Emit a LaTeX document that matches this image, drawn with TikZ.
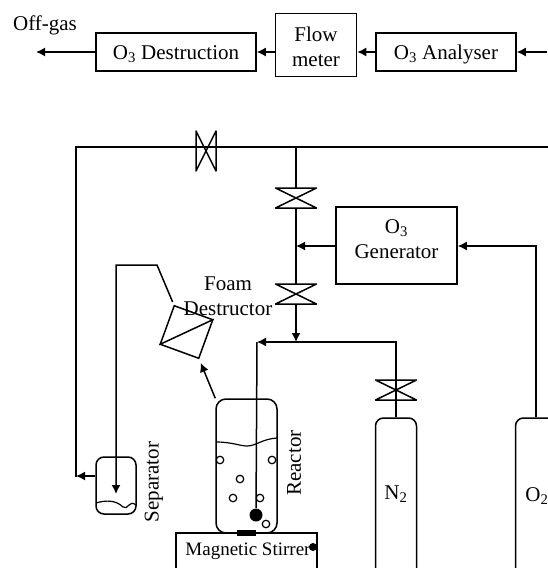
\documentclass[tikz,border=0pt]{standalone}
\usepackage{fontspec}
\setmainfont{Liberation Serif}
\usepackage{tikz}
\usetikzlibrary{positioning,arrows.meta,calc}

\begin{document}
\begin{tikzpicture}[
    x=1pt, y=-1pt,
    >={Latex[length=9pt,width=9pt]},
    line width=1.5pt,
    lbl/.style={font=\fontsize{21}{24.5}\selectfont, inner sep=0pt, align=center},
    box/.style={rectangle, draw, inner sep=0pt, font=\fontsize{21}{24.5}\selectfont, align=center},
    valve/.style={rectangle, minimum width=41pt, minimum height=20pt, inner sep=0pt, outer sep=0pt},
    vessel/.style={rectangle, draw, rounded corners=8pt, inner sep=0pt},
    bubble/.style={circle, draw, line width=1.2pt, minimum size=7.5pt, inner sep=0pt},
    blob/.style={circle, fill, inner sep=0pt}
]
\useasboundingbox (0,0) rectangle (547,568);

% Off-gas train
\node[box, minimum width=160pt, minimum height=38pt, text height=19pt] (dest) at (176,52) {O\textsubscript{3} Destruction};
\node[box, minimum width=81pt, minimum height=63pt] (flow) at (316,45) {};
\node[lbl] (flowlbl) at (316,47) {Flow\\meter};
\node[box, minimum width=140pt, minimum height=38pt, text height=19pt] (ana) at (446,52) {O\textsubscript{3} Analyser};
\node[lbl] (off) at (45,25) {Off-gas};
\coordinate (gasin) at (547,52);
\coordinate (gasout) at (36,52);
\draw[->] (gasin) -- (ana);
\draw[->] (ana) -- (flow.east |- ana);
\draw[->] (flow.west |- dest) -- (dest);
\draw[->] (dest) -- (gasout);

% Valves
\node[valve, minimum width=20pt, minimum height=40pt] (vtop) at (206,151) {};
\node[valve] (vgen) at (296,198) {};
\node[valve] (vfoam) at (296,294) {};
\node[valve] (vnit) at (396,390) {};
\foreach \v in {vgen,vfoam,vnit}
    \draw[line join=round] (\v.north west) -- (\v.north east) -- (\v.south west) -- (\v.south east) -- cycle;
\draw[line join=round] (vtop.north west) -- (vtop.south west) -- (vtop.north east) -- (vtop.south east) -- cycle;

% Generator, cylinders
\node[box, minimum width=121pt, minimum height=77pt] (gen) at (396.5,245.5) {};
\node[lbl] (genlbl) at (396.5,239) {O\textsubscript{3}\\Generator};
\node[vessel, minimum width=41pt, minimum height=190pt] (ntwo) at (396,513) {};
\node[vessel, minimum width=41pt, minimum height=190pt] (otwo) at (536,513) {};
\node[lbl] (ntwolbl) at (396,494) {N\textsubscript{2}};
\node[lbl] (otwolbl) at (537,496) {O\textsubscript{2}};

% Reactor
\node[vessel, rounded corners=10pt, minimum width=61pt, minimum height=134pt] (reac) at (246.5,466) {};
\node[box, minimum width=141pt, minimum height=60pt] (stir) at (246.5,563) {};
\node[lbl, font=\fontsize{19}{22}\selectfont] (stirlbl) at (248,551) {Magnetic Stirrer};
\node[lbl, rotate=90] (reaclbl) at (294,463) {Reactor};
\node[blob, minimum width=19pt, minimum height=6pt, rectangle] (bar) at (246.5,533) {};
\node[blob, minimum size=8pt] (knob) at (313,547) {};
\node[blob, minimum size=13pt] (sparger) at (256,515) {};
\draw[line width=1.2pt] (216,442) .. controls (232,442) and (240,446) .. (247,446) .. controls (256,446) and (262,439) .. (277,438);
\foreach \p in {(220,460),(272,460),(240,479),(233,498),(260,498),(266,524)}
    \node[bubble] at \p {};

% Foam destructor
\node[box, minimum size=41pt, rotate=-20] (foam) at (186.5,332) {};
\draw (foam.south west) -- (foam.north east);
\node[lbl] (foamlbl) at (228,296) {Foam\\Destructor};

% Separator
\node[vessel, minimum width=40pt, minimum height=57pt] (sep) at (116,485.5) {};
\node[lbl, rotate=90] (seplbl) at (154,482) {Separator};
\draw[line width=1.2pt] (96,503) .. controls (106,500) and (116,500) .. (123,507) .. controls (128,511) and (129,499) .. (136,505);

% Pipes
\coordinate (mainr) at (547,147);
\coordinate (mainl) at (76,147);
\coordinate (tee) at (296,147);
\coordinate (join) at (296,342);
\coordinate (nitcorner) at (396,342);
\coordinate (sepout) at (76,476);
\coordinate (foamup) at (157,265);
\coordinate (foamleft) at (116,265);
\coordinate (septip) at (116,494);
\coordinate (otwocorner) at (536,246);
\coordinate (reacfeed) at (257,342);
\draw[line cap=rect] (mainr) -- (mainl) -- (sepout);
\draw (tee) -- (vgen.north);
\draw (vgen.south) -- (vfoam.north);
\draw[->] (gen.west |- otwocorner) -- (vgen.south |- otwocorner);
\draw[->] (vfoam.south) -- (join);
\draw[->] (otwo.north) -- (otwocorner) -- (gen.east |- otwocorner);
\draw (ntwo.north) -- (nitcorner) -- (join);
\draw[->] (join) -- (reacfeed);
\draw (reacfeed) -- (sparger);
\draw[->] (sep.west |- sepout) -- (sepout);
\draw[->, shorten >=4pt] (reac.north west) -- (foam.south east);
\draw[->, shorten <=3pt] (foam.north west) -- (foamup) -- (foamleft) -- (septip);
\end{tikzpicture}
\end{document}
